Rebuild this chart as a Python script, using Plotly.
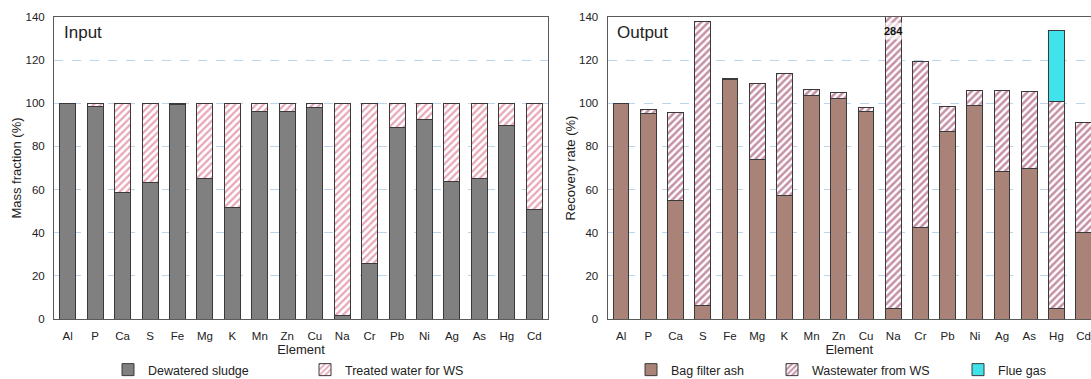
import plotly.graph_objects as go

elements = ["Al", "P", "Ca", "S", "Fe", "Mg", "K", "Mn", "Zn", "Cu", "Na", "Cr", "Pb", "Ni", "Ag", "As", "Hg", "Cd"]

# Input (mass fraction, %)
dewatered_sludge = [99.7, 98.5, 58.6, 63.5, 99.3, 65.2, 51.9, 96.4, 96.1, 98.1, 1.8, 25.8, 88.9, 92.7, 63.8, 65.2, 89.9, 50.9]
treated_water = [round(100 - v, 1) for v in dewatered_sludge]

# Output (recovery rate, %)
bag_filter_ash = [100.0, 95.3, 55.0, 6.3, 111.2, 74.0, 57.1, 103.4, 102.2, 96.3, 5.0, 42.3, 87.1, 99.1, 68.2, 69.8, 5.0, 40.1]
wastewater_ws = [0.0, 1.6, 40.9, 131.6, 0.3, 35.0, 56.8, 3.0, 2.9, 1.6, 279.0, 77.0, 11.2, 6.8, 37.7, 35.8, 96.0, 51.0]
flue_gas = [0, 0, 0, 0, 0, 0, 0, 0, 0, 0, 0, 0, 0, 0, 0, 0, 32.9, 0]
na_total_label = "284"

W, H = 1091, 379
ML, MR, MT, MB = 0, 0, 17, 60
PH = H - MT - MB
FONT = "Liberation Sans, Arial, sans-serif"
OUTLINE = dict(color="#3a3a3a", width=1)
BW = 0.58

def px_x(p):
    return p / W

def px_y(p):
    return (H - MB - p) / PH

fig = go.Figure()

fig.add_trace(go.Bar(
    x=elements, y=dewatered_sludge, name="Dewatered sludge",
    marker=dict(color="#808080", line=OUTLINE), width=BW,
    xaxis="x", yaxis="y", legend="legend"))
fig.add_trace(go.Bar(
    x=elements, y=treated_water, name="Treated water for WS",
    marker=dict(color="white", line=OUTLINE,
                pattern=dict(shape="/", fgcolor="#cf4d6e", bgcolor="white",
                             size=5, solidity=0.45, fillmode="overlay")),
    width=BW, xaxis="x", yaxis="y", legend="legend2"))

fig.add_trace(go.Bar(
    x=elements, y=bag_filter_ash, name="Bag filter ash",
    marker=dict(color="#a98377", line=OUTLINE), width=BW,
    xaxis="x2", yaxis="y2", legend="legend3"))
fig.add_trace(go.Bar(
    x=elements, y=wastewater_ws, name="Wastewater from WS",
    marker=dict(color="white", line=OUTLINE,
                pattern=dict(shape="/", fgcolor="#8c1f4c", bgcolor="white",
                             size=5, solidity=0.5, fillmode="overlay")),
    width=BW, xaxis="x2", yaxis="y2", legend="legend4"))
fig.add_trace(go.Bar(
    x=elements, y=flue_gas, name="Flue gas",
    marker=dict(color="#40e2ec", line=OUTLINE), width=BW,
    xaxis="x2", yaxis="y2", legend="legend5"))

axis_common_x = dict(
    type="category", categoryorder="array", categoryarray=elements,
    showline=True, linecolor="#5a5a5a", linewidth=1, mirror=True,
    showgrid=False, ticks="", ticklabelstandoff=6,
    tickfont=dict(size=11.5, color="#222", family=FONT),
    title=dict(text="Element", font=dict(size=13, color="#222", family=FONT), standoff=2),
)
axis_common_y = dict(
    range=[0, 140], dtick=20, tick0=0,
    showline=True, linecolor="#5a5a5a", linewidth=1,
    showgrid=True, gridcolor="#bcd5ec", griddash="dash", gridwidth=1,
    zeroline=False, ticks="", ticklabelstandoff=6,
    tickfont=dict(size=11.5, color="#222", family=FONT),
)

fig.update_layout(
    width=W, height=H,
    margin=dict(l=ML, r=MR, t=MT, b=MB, autoexpand=False),
    paper_bgcolor="white", plot_bgcolor="white",
    barmode="stack",
    font=dict(family=FONT, color="#222"),
    xaxis=dict(axis_common_x, domain=[px_x(54), px_x(548)], range=[-0.5, 17.5], anchor="y"),
    yaxis=dict(axis_common_y, domain=[0, 1], anchor="x", mirror=True,
               title=dict(text="Mass fraction (%)", font=dict(size=13, color="#222", family=FONT), standoff=0)),
    xaxis2=dict(axis_common_x, domain=[px_x(607.5), 1.0], range=[-0.5, 17.27], anchor="y2"),
    yaxis2=dict(axis_common_y, domain=[0, 1], anchor="x2", mirror=False,
                title=dict(text="Recovery rate (%)", font=dict(size=13, color="#222", family=FONT), standoff=0)),
    showlegend=True,
)

# legends, one per item, positioned like the reference
leg_font = dict(size=12.5, color="#222", family=FONT)
for key, xpix in [("legend", 108), ("legend2", 305), ("legend3", 631), ("legend4", 772), ("legend5", 958)]:
    fig.update_layout({key: dict(x=px_x(xpix), y=px_y(370), xref="paper", yref="paper",
                                 xanchor="left", yanchor="middle", orientation="h",
                                 font=leg_font, bgcolor="rgba(0,0,0,0)",
                                 itemwidth=30, tracegroupgap=0)})

# panel labels
fig.add_annotation(x=px_x(62), y=px_y(32), xref="paper", yref="paper",
                   text="Input", showarrow=False, xanchor="left", yanchor="middle",
                   font=dict(size=17, color="#222", family=FONT))
fig.add_annotation(x=px_x(615), y=px_y(32), xref="paper", yref="paper",
                   text="Output", showarrow=False, xanchor="left", yanchor="middle",
                   font=dict(size=17, color="#222", family=FONT))

# label for the off-scale Na bar
fig.add_annotation(x="Na", y=133.5, xref="x2", yref="y2", text="<b>" + na_total_label + "</b>",
                   showarrow=False, font=dict(size=11, color="#111", family=FONT),
                   bgcolor="rgba(255,255,255,0.65)", borderpad=2)

fig.write_html("out.html", config={"displayModeBar": False},
               post_script="document.body.style.margin='0';document.body.style.overflow='hidden';")
